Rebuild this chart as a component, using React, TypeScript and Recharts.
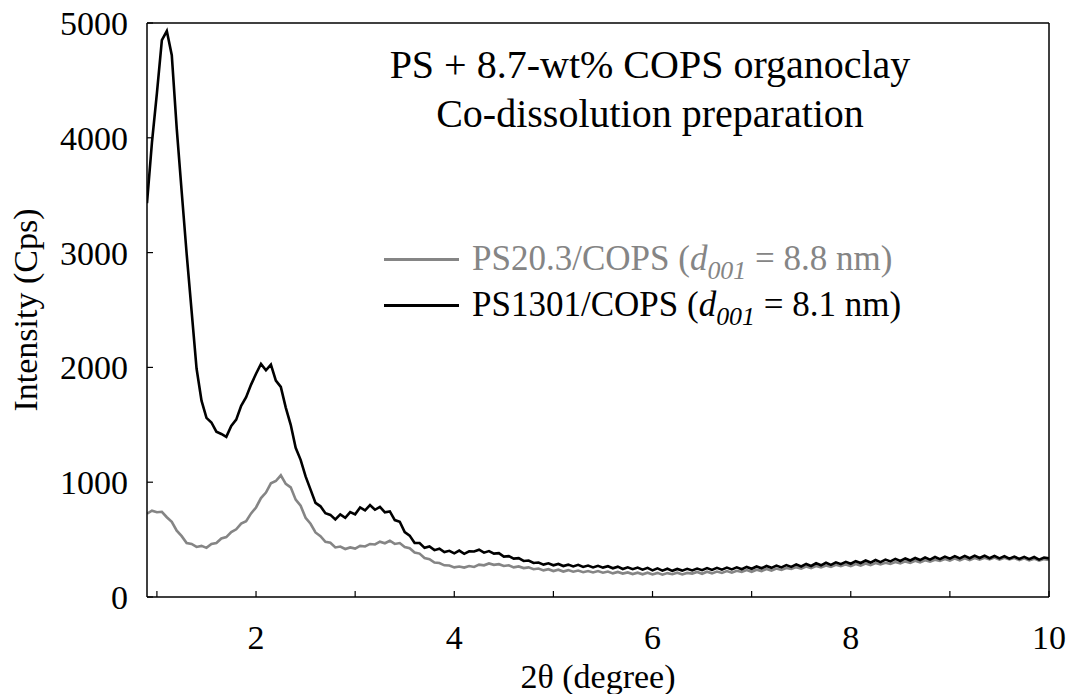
import React from 'react'
import { LineChart, Line, XAxis, YAxis, Legend } from 'recharts'

// 2θ scan positions (degree)
const twoTheta = [
  0.9, 0.95, 1, 1.05, 1.1, 1.15, 1.2, 1.25, 1.3, 1.35,
  1.4, 1.45, 1.5, 1.55, 1.6, 1.65, 1.7, 1.75, 1.8, 1.85,
  1.9, 1.95, 2, 2.05, 2.1, 2.15, 2.2, 2.25, 2.3, 2.35,
  2.4, 2.45, 2.5, 2.55, 2.6, 2.65, 2.7, 2.75, 2.8, 2.85,
  2.9, 2.95, 3, 3.05, 3.1, 3.15, 3.2, 3.25, 3.3, 3.35,
  3.4, 3.45, 3.5, 3.55, 3.6, 3.65, 3.7, 3.75, 3.8, 3.85,
  3.9, 3.95, 4, 4.05, 4.1, 4.15, 4.2, 4.25, 4.3, 4.35,
  4.4, 4.45, 4.5, 4.55, 4.6, 4.65, 4.7, 4.75, 4.8, 4.85,
  4.9, 4.95, 5, 5.05, 5.1, 5.15, 5.2, 5.25, 5.3, 5.35,
  5.4, 5.45, 5.5, 5.55, 5.6, 5.65, 5.7, 5.75, 5.8, 5.85,
  5.9, 5.95, 6, 6.05, 6.1, 6.15, 6.2, 6.25, 6.3, 6.35,
  6.4, 6.45, 6.5, 6.55, 6.6, 6.65, 6.7, 6.75, 6.8, 6.85,
  6.9, 6.95, 7, 7.05, 7.1, 7.15, 7.2, 7.25, 7.3, 7.35,
  7.4, 7.45, 7.5, 7.55, 7.6, 7.65, 7.7, 7.75, 7.8, 7.85,
  7.9, 7.95, 8, 8.05, 8.1, 8.15, 8.2, 8.25, 8.3, 8.35,
  8.4, 8.45, 8.5, 8.55, 8.6, 8.65, 8.7, 8.75, 8.8, 8.85,
  8.9, 8.95, 9, 9.05, 9.1, 9.15, 9.2, 9.25, 9.3, 9.35,
  9.4, 9.45, 9.5, 9.55, 9.6, 9.65, 9.7, 9.75, 9.8, 9.85,
  9.9, 9.95, 10,
]

// PS20.3/COPS intensity (Cps)
const ps203 = [
  725, 752, 738, 742, 695, 655, 578, 530, 470, 462,
  436, 445, 428, 462, 470, 510, 522, 566, 590, 640,
  660, 728, 780, 862, 910, 990, 1010, 1060, 985, 955,
  848, 795, 690, 638, 562, 530, 480, 472, 432, 440,
  418, 432, 422, 445, 440, 462, 458, 482, 468, 490,
  462, 470, 436, 425, 388, 378, 340, 330, 300, 296,
  276, 274, 258, 266, 256, 270, 262, 282, 276, 292,
  280, 286, 270, 276, 258, 266, 252, 258, 242, 248,
  232, 242, 226, 238, 222, 234, 220, 230, 216, 226,
  214, 226, 212, 222, 206, 218, 204, 214, 200, 212,
  198, 212, 196, 210, 194, 208, 198, 212, 196, 210,
  204, 218, 202, 220, 206, 222, 210, 226, 212, 228,
  218, 234, 220, 238, 226, 244, 230, 248, 236, 252,
  244, 260, 248, 266, 252, 270, 258, 274, 262, 280,
  268, 284, 270, 288, 274, 292, 278, 296, 284, 298,
  288, 304, 292, 310, 298, 316, 302, 320, 308, 324,
  314, 330, 316, 336, 320, 338, 322, 340, 326, 342,
  328, 344, 326, 342, 328, 340, 322, 338, 320, 334,
  316, 330, 322,
]

// PS1301/COPS intensity (Cps)
const ps1301 = [
  3430, 3960, 4390, 4850, 4930, 4720, 4080, 3530, 2990, 2490,
  1990, 1710, 1560, 1520, 1440, 1420, 1395, 1490, 1545, 1665,
  1740, 1850, 1945, 2030, 1975, 2025, 1885, 1830, 1650, 1500,
  1300, 1195, 1050, 935, 820, 790, 730, 715, 675, 720,
  690, 740, 720, 780, 755, 800, 760, 785, 738, 745,
  670, 655, 565, 535, 470, 470, 428, 440, 408, 420,
  392, 402, 380, 404, 376, 398, 396, 412, 386, 400,
  378, 382, 352, 356, 334, 338, 314, 318, 296, 300,
  282, 294, 276, 288, 270, 282, 266, 280, 262, 274,
  258, 272, 256, 268, 250, 264, 244, 258, 242, 256,
  238, 254, 232, 250, 230, 246, 228, 244, 230, 246,
  232, 248, 234, 252, 236, 254, 238, 256, 240, 258,
  242, 262, 246, 266, 250, 270, 254, 274, 258, 278,
  262, 284, 266, 288, 270, 294, 276, 298, 280, 302,
  286, 306, 290, 312, 296, 318, 300, 322, 304, 326,
  310, 332, 314, 336, 318, 340, 322, 344, 326, 348,
  330, 352, 334, 356, 336, 358, 338, 360, 340, 360,
  338, 358, 336, 356, 334, 352, 332, 350, 330, 348,
  326, 344, 336,
]

const seriesNames = ['PS20.3/COPS', 'PS1301/COPS']
const d001 = ['8.8', '8.1']
const xTicks = [1, 2, 3, 4, 5, 6, 7, 8, 9, 10]
const yTicks = [0, 1000, 2000, 3000, 4000, 5000]
const titleLines = ['PS + 8.7-wt% COPS organoclay', 'Co-dissolution preparation']

const data = twoTheta.map((x, i) => ({ x, ps203: ps203[i], ps1301: ps1301[i] }))

const FONT = '"Liberation Serif", "Times New Roman", serif'
const tickFont = { fontSize: 34, fill: '#000', fontFamily: FONT }

function LegendBox({ payload }: any) {
  // keep the plotting order (the legend sorts by name otherwise)
  const items = seriesNames
    .map((name) => (payload || []).find((p: any) => p.value === name))
    .filter(Boolean)
  return (
    <div style={{ fontFamily: FONT, fontSize: 35 }}>
      {items.map((p: any) => (
        <div
          key={p.value}
          style={{ display: 'flex', alignItems: 'center', height: 46, color: p.color }}
        >
          <span
            style={{
              display: 'inline-block',
              width: 75,
              height: 3,
              background: p.color,
              marginRight: 13,
            }}
          />
          <span style={{ whiteSpace: 'nowrap', lineHeight: '46px' }}>
            {p.value} (
            <i>
              d
              <sub style={{ fontSize: '0.74em', verticalAlign: '-0.34em', lineHeight: 0 }}>001</sub>
            </i>{' '}
            = {d001[seriesNames.indexOf(p.value)]} nm)
          </span>
        </div>
      ))}
    </div>
  )
}

export default function App() {
  return (
    <div style={{ position: 'absolute', left: 0, top: 0, background: '#fff' }}>
      <LineChart
        width={1068}
        height={694}
        data={data}
        margin={{ top: 22, right: 18, bottom: 0, left: 0 }}
      >
        <XAxis
          xAxisId="bottom"
          dataKey="x"
          type="number"
          domain={[0.9, 10]}
          ticks={xTicks}
          allowDataOverflow
          height={97}
          tickSize={-6}
          tickMargin={34}
          tick={tickFont}
          tickFormatter={(v: number) => (v % 2 === 0 ? String(v) : '')}
          axisLine={{ stroke: '#000', strokeWidth: 1.5 }}
          tickLine={{ stroke: '#000', strokeWidth: 1.2 }}
          label={{
            value: '2θ (degree)',
            position: 'insideBottom',
            offset: 6,
            style: { fontSize: 34, fill: '#000', fontFamily: FONT },
          }}
        />
        <XAxis
          xAxisId="top"
          orientation="top"
          dataKey="x"
          type="number"
          domain={[0.9, 10]}
          ticks={xTicks}
          allowDataOverflow
          height={1}
          tickSize={-6}
          tick={false}
          axisLine={{ stroke: '#000', strokeWidth: 1.5 }}
          tickLine={{ stroke: '#000', strokeWidth: 1.2 }}
        />
        <YAxis
          yAxisId="left"
          type="number"
          domain={[0, 5000]}
          ticks={yTicks}
          allowDataOverflow
          width={147}
          tickSize={-6}
          tickMargin={25}
          tick={tickFont}
          axisLine={{ stroke: '#000', strokeWidth: 1.5 }}
          tickLine={{ stroke: '#000', strokeWidth: 1.2 }}
          label={{
            value: 'Intensity (Cps)',
            angle: -90,
            position: 'insideLeft',
            offset: 25,
            style: { fontSize: 34, fill: '#000', fontFamily: FONT, textAnchor: 'middle' },
          }}
        />
        <YAxis
          yAxisId="right"
          orientation="right"
          type="number"
          domain={[0, 5000]}
          ticks={yTicks}
          allowDataOverflow
          width={1}
          tickSize={-6}
          tick={false}
          axisLine={{ stroke: '#000', strokeWidth: 1.5 }}
          tickLine={{ stroke: '#000', strokeWidth: 1.2 }}
        />
        <Legend
          content={<LegendBox />}
          layout="vertical"
          verticalAlign="middle"
          align="center"
          wrapperStyle={{ left: 384, top: 236, width: 660 }}
        />
        <Line
          xAxisId="bottom"
          yAxisId="left"
          dataKey="ps203"
          name={seriesNames[0]}
          stroke="#858585"
          strokeWidth={2.6}
          dot={false}
          isAnimationActive={false}
        />
        <Line
          xAxisId="bottom"
          yAxisId="left"
          dataKey="ps1301"
          name={seriesNames[1]}
          stroke="#000"
          strokeWidth={2.6}
          dot={false}
          isAnimationActive={false}
        />
        <text x={650} textAnchor="middle" fontFamily={FONT} fontSize={40} fill="#000">
          <tspan x={650} y={78}>{titleLines[0]}</tspan>
          <tspan x={650} y={127}>{titleLines[1]}</tspan>
        </text>
      </LineChart>
    </div>
  )
}
